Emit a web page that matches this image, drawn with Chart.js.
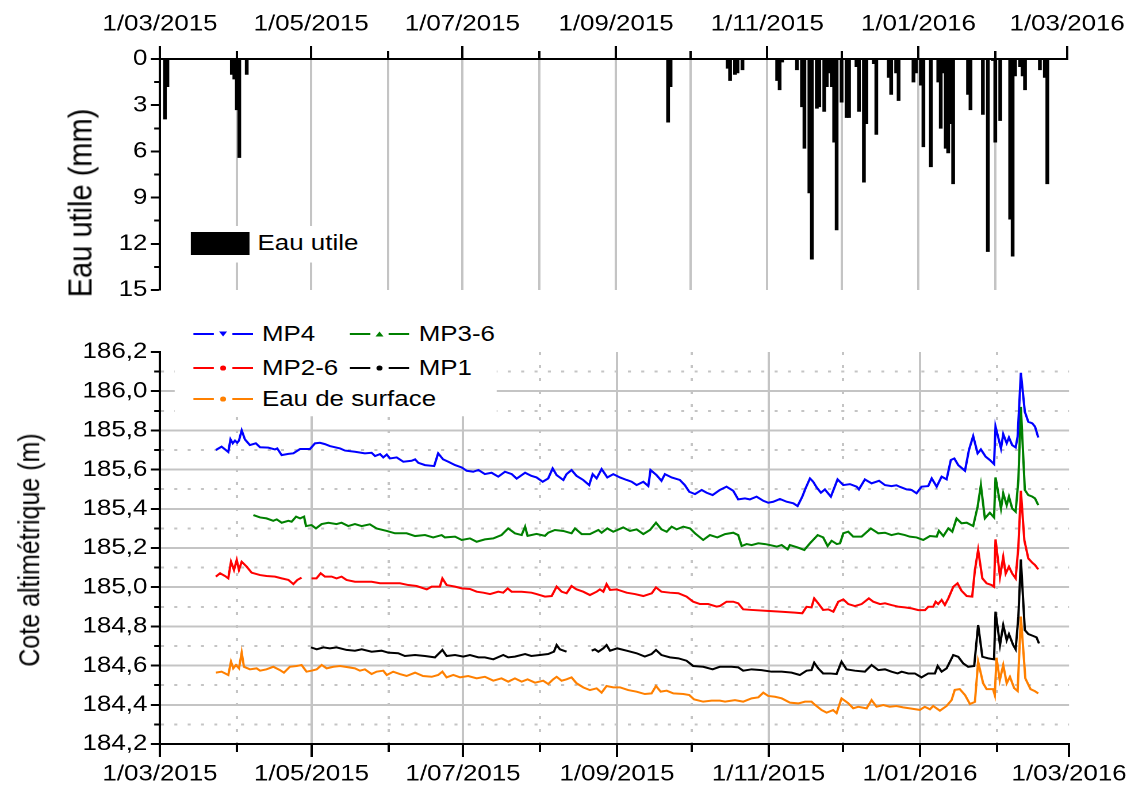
<!DOCTYPE html>
<html>
<head>
<meta charset="utf-8">
<script src="https://cdn.jsdelivr.net/npm/chart.js@4.4.0/dist/chart.umd.min.js"></script>
<style>
html, body { margin: 0; padding: 0; background: #fff; overflow: hidden; }
#page { position: absolute; left: 0; top: 0; width: 986px; height: 791px; transform: scaleX(1.15); transform-origin: 0 0;
        font-family: 'Liberation Sans', Arial, sans-serif; color: #000; }
.box { position: absolute; }
.ttl { position: absolute; white-space: nowrap; transform: translate(-50%, -50%) rotate(-90deg); }
.leg { position: absolute; background: #fff; }
.item { position: absolute; height: 30px; display: flex; align-items: center; white-space: nowrap; font-size: 22.5px; }
</style>
</head>
<body>
<div id="page">
  <div class="box" style="left:0;top:0;width:986px;height:310px"><canvas id="rain"></canvas></div>
  <div class="box" style="left:0;top:310px;width:986px;height:481px"><canvas id="level"></canvas></div>
  <div class="ttl" style="left:70px;top:203px;font-size:29px">Eau utile (mm)</div>
  <div class="ttl" style="left:26px;top:550px;font-size:25px">Cote altimétrique (m)</div>
  <div id="rainLeg" class="leg" style="left:161px;top:226px;width:154px;height:36px"></div>
  <div id="levelLeg" class="leg" style="left:152px;top:318px;width:280px;height:98px"></div>
</div>
<script>
// days counted from 1/03/2015
var monthDays = [0, 31, 61, 92, 122, 153, 184, 214, 245, 275, 306, 337, 366];
var monthLabels = ['1/03/2015', '', '1/05/2015', '', '1/07/2015', '', '1/09/2015', '', '1/11/2015', '', '1/01/2016', '', '1/03/2016'];
var rainTicks = [0, 1.5, 3, 4.5, 6, 7.5, 9, 10.5, 12, 13.5, 15];
var levelTicks = [184.2, 184.3, 184.4, 184.5, 184.6, 184.7, 184.8, 184.9, 185.0, 185.1, 185.2,
                  185.3, 185.4, 185.5, 185.6, 185.7, 185.8, 185.9, 186.0, 186.1, 186.2];

// Eau utile (mm)
var rainDays = [2, 3, 29, 30, 31, 32, 35, 205, 206, 229, 230, 232, 233, 235, 249, 250, 251,
  257, 259, 260, 262, 263, 265, 266, 268, 269, 270, 271, 272, 273, 275, 277, 278, 281, 282, 284, 285,
  288, 289, 294, 295, 297, 298, 304, 305, 307, 308, 311, 314, 315, 316, 317, 318, 319, 320, 326, 327,
  332, 334, 336, 337, 339, 343, 344, 345, 347, 348, 349, 355, 357, 358];
var rainMm = [3.9, 1.8, 1.0, 1.3, 3.3, 6.4, 1.0, 4.1, 1.8, 0.6, 1.4, 1.0, 0.9, 0.7, 1.4, 2.0, 0.2,
  0.7, 3.1, 5.8, 8.7, 13.0, 3.2, 3.1, 3.4, 1.8, 0.9, 1.8, 5.4, 11.1, 2.8, 3.8, 3.8, 0.5, 3.4, 8.0, 4.2,
  0.3, 4.9, 1.2, 2.3, 0.9, 2.7, 1.5, 0.9, 1.7, 5.7, 7.0, 1.5, 4.5, 0.9, 5.8, 6.1, 4.2, 8.1, 2.3, 3.3,
  3.6, 12.5, 0.1, 5.4, 4.0, 10.4, 12.8, 1.1, 0.5, 1.1, 2.0, 0.7, 1.2, 8.1];

// Cote altimetrique (m), [day, value]
var mp4 = [[22.5,185.70],[24.8,185.717],[27.5,185.69],[28.4,185.754],[29.3,185.734],[30.2,185.748],[31.1,185.737],[31.8,185.748],[32.9,185.80],[34.2,185.754],[36.2,185.725],[38.6,185.734],[40.3,185.714],[43.6,185.712],[46.3,185.703],[47.2,185.708],[49,185.674],[51.7,185.68],[53.7,185.683],[56.4,185.705],[60.4,185.705],[62.4,185.734],[64.4,185.737],[66.4,185.73],[68.4,185.72],[72.5,185.708],[74.5,185.697],[78.5,185.691],[82.5,185.683],[85.2,185.686],[86.6,185.669],[88.6,185.679],[89.9,185.662],[91.3,185.677],[92.6,185.657],[95.3,185.662],[98,185.64],[101.3,185.645],[102.7,185.652],[104,185.635],[106.7,185.623],[110.4,185.618],[112,185.683],[114,185.652],[116.1,185.64],[118.8,185.623],[121.5,185.611],[123.5,185.594],[126.1,185.589],[128.2,185.598],[130.8,185.577],[133.5,185.584],[136.2,185.564],[138.9,185.589],[141.6,185.577],[143.6,185.554],[147,185.584],[149.5,185.568],[151.6,185.56],[154.1,185.538],[156.3,185.555],[158.1,185.606],[159.7,185.572],[162.4,185.547],[163.7,185.577],[165.7,185.598],[167.7,185.568],[170.4,185.547],[172.8,185.521],[174.2,185.577],[175.8,185.555],[177.8,185.603],[180.1,185.56],[182.5,185.577],[185.2,185.56],[187.9,185.547],[189.9,185.538],[191.9,185.521],[194.6,185.538],[196.6,185.516],[197.5,185.598],[199.9,185.572],[201.9,185.543],[203.3,185.577],[206,185.56],[209.3,185.547],[211.3,185.521],[213.1,185.487],[215.4,185.475],[218.1,185.496],[220.1,185.482],[222.5,185.47],[225.4,185.496],[228.1,185.513],[230.8,185.492],[232.8,185.448],[235.5,185.453],[237.5,185.448],[240.2,185.462],[242.9,185.441],[244.9,185.431],[246.9,185.436],[249.6,185.45],[252.3,185.436],[255,185.428],[256.7,185.414],[258.6,185.462],[259.9,185.504],[261.7,185.555],[263,185.538],[264.4,185.509],[266.1,185.482],[267.7,185.499],[270.1,185.462],[272.8,185.55],[275.1,185.521],[277.8,185.526],[280.5,185.513],[281.4,185.499],[283.8,185.55],[286.5,185.53],[289.5,185.543],[291.9,185.521],[294.5,185.516],[296.5,185.52],[297.9,185.512],[300.6,185.499],[302.6,185.496],[304.6,185.479],[306.6,185.513],[309.3,185.516],[310.7,185.555],[312.7,185.513],[314.7,185.564],[316.7,185.55],[318.4,185.649],[319.8,185.657],[321.4,185.623],[324.1,185.594],[325.7,185.7],[327.4,185.771],[329.2,185.683],[330.5,185.703],[332.4,185.666],[334.1,185.649],[335.8,185.628],[336.4,185.819],[338.6,185.708],[339.5,185.781],[340.9,185.735],[341.8,185.764],[343.1,185.725],[344.5,185.713],[345.3,185.768],[346.6,186.094],[348.2,185.895],[349.6,185.844],[351.2,185.836],[352.3,185.819],[353.6,185.764]];
var mp36 = [[37.6,185.368],[40.3,185.356],[42.9,185.351],[45.6,185.339],[47,185.346],[49,185.329],[51.7,185.339],[53,185.334],[54.8,185.36],[56.4,185.351],[58,185.36],[58.8,185.312],[61,185.317],[62.8,185.30],[65.1,185.322],[67.8,185.329],[71.1,185.322],[73.1,185.329],[75.8,185.312],[78.5,185.322],[81.2,185.312],[84.5,185.321],[87.2,185.30],[91.3,185.287],[94.6,185.275],[99.3,185.275],[102.7,185.261],[106.7,185.266],[110,185.254],[113.4,185.266],[114.7,185.254],[118.8,185.258],[121.5,185.241],[124.8,185.249],[127.5,185.232],[130.8,185.244],[134.2,185.249],[137.5,185.266],[140.2,185.30],[142.9,185.275],[145.6,185.266],[147,185.309],[148,185.262],[151.6,185.272],[155,185.262],[156.3,185.278],[159,185.292],[162.4,185.287],[165.7,185.275],[167.1,185.30],[169.8,185.271],[173.1,185.271],[176.5,185.292],[177.8,185.278],[180.1,185.30],[182.5,185.283],[186.5,185.305],[189.2,185.287],[191.9,185.295],[194.6,185.271],[197.3,185.292],[199.7,185.329],[201.9,185.295],[204,185.283],[206,185.309],[208,185.295],[210.7,185.309],[213.4,185.30],[215.4,185.275],[218.7,185.241],[221.4,185.266],[224.4,185.254],[227.5,185.271],[230.8,185.278],[232.8,185.266],[234.2,185.21],[236.2,185.22],[238.2,185.215],[240.9,185.224],[243.6,185.22],[245.6,185.215],[248.3,185.207],[250.3,185.215],[252.7,185.193],[253.6,185.215],[256.7,185.203],[259.4,185.19],[261.7,185.224],[264.8,185.266],[267,185.254],[268.8,185.21],[270.4,185.237],[272.5,185.22],[273.8,185.224],[275.1,185.275],[277.1,185.283],[279.1,185.258],[282.5,185.258],[286.2,185.30],[289.2,185.275],[291.9,185.278],[294.5,185.266],[297.2,185.274],[299.9,185.266],[301.9,185.258],[304.6,185.254],[307.3,185.241],[310,185.261],[312.7,185.258],[313.6,185.288],[315.4,185.261],[317.4,185.30],[319,185.283],[320.7,185.351],[322.7,185.326],[324.8,185.329],[327.4,185.312],[329.2,185.411],[330.5,185.521],[332.1,185.351],[334.1,185.38],[335.8,185.356],[336.4,185.56],[338.6,185.402],[339.5,185.479],[340.9,185.419],[341.8,185.462],[343.1,185.402],[344.5,185.385],[345.6,185.547],[346.6,185.92],[348.2,185.496],[349.6,185.47],[351.2,185.462],[352.3,185.453],[353.6,185.419]];
var mp26 = [[22.5,185.054],[24.2,185.071],[26.2,185.057],[27.5,185.045],[28.6,185.13],[29.8,185.088],[30.9,185.139],[31.8,185.088],[32.9,185.13],[34.9,185.105],[36.9,185.074],[40.3,185.062],[42.9,185.057],[46.3,185.054],[49,185.045],[51.7,185.037],[53.7,185.016],[55.3,185.037],[57,185.049],[59,null],[61,185.045],[63,185.045],[64.7,185.071],[66.4,185.054],[69.1,185.054],[71.1,185.045],[73.1,185.054],[75.1,185.037],[78.5,185.028],[82.5,185.028],[85.2,185.028],[88.6,185.02],[91.9,185.02],[96.6,185.02],[100,185.011],[103.3,185.006],[107.4,184.989],[109.4,185.003],[112.7,185.003],[113.7,185.045],[115.4,185.011],[118.8,185.003],[121.5,184.994],[124.8,184.991],[127.5,184.977],[130.2,184.972],[132.9,184.965],[136.2,184.977],[138.2,184.972],[140,184.994],[141.6,184.977],[145.6,184.977],[149.6,184.972],[151.6,184.965],[155,184.952],[157.7,184.955],[159.7,185.003],[161.7,184.977],[163.7,184.969],[165.7,185.006],[167.7,184.989],[170.4,184.977],[173.1,184.96],[175.8,184.977],[177.1,184.989],[178.5,184.977],[179.8,185.016],[181.2,184.986],[183.8,184.989],[187.9,184.972],[191.2,184.965],[194.6,184.955],[198,184.969],[199.7,184.999],[201.9,184.977],[205.3,184.972],[208.7,184.969],[212,184.952],[214.7,184.926],[217.4,184.914],[220.7,184.914],[224.1,184.901],[225.4,184.904],[228.1,184.926],[230.8,184.926],[232.8,184.918],[234.8,184.887],[238.2,184.884],[243.6,184.88],[250.3,184.875],[255.6,184.87],[258.6,184.867],[260.3,184.9],[262.3,184.897],[263.4,184.943],[265,184.918],[267,184.884],[269.1,184.887],[271.1,184.875],[273.1,184.926],[275.1,184.938],[277.1,184.914],[279.8,184.904],[282.5,184.914],[285.4,184.943],[287.2,184.926],[289.9,184.914],[291.9,184.918],[294.5,184.909],[297.5,184.9],[299.9,184.897],[302.6,184.892],[305.3,184.883],[308,184.883],[309.3,184.9],[311.3,184.9],[312.3,184.926],[313.3,184.914],[314.7,184.935],[316,184.909],[317.4,184.943],[319.4,185.002],[321.1,185.02],[322.7,184.982],[324.8,184.955],[327,184.952],[328.1,185.088],[329.4,185.19],[331.1,185.045],[332.8,185.02],[334.8,185.011],[335.8,185.002],[336.4,185.244],[338.2,185.053],[339.5,185.155],[340.5,185.07],[341.8,185.105],[343.1,185.07],[344.5,185.045],[345.6,185.206],[346.6,185.492],[348,185.24],[349.6,185.147],[351.2,185.125],[352.3,185.113],[353.6,185.091]];
var mp1 = [[60.8,184.693],[63.1,184.683],[65.8,184.693],[68.4,184.688],[71.1,184.693],[75.1,184.68],[78.5,184.676],[81.2,184.683],[85.2,184.671],[89.2,184.676],[91.9,184.666],[95.9,184.663],[98.6,184.649],[102.7,184.654],[106.7,184.649],[110.7,184.642],[113.7,184.68],[115.4,184.649],[118.8,184.654],[122.1,184.646],[124.8,184.654],[128.2,184.642],[130.8,184.642],[134.2,184.632],[138.2,184.654],[140.2,184.642],[142.9,184.646],[147,184.659],[149.5,184.649],[153,184.654],[156.3,184.659],[158.6,184.671],[159.7,184.705],[161,184.683],[163.7,184.671],[168,null],[173.8,184.676],[175.1,184.683],[176.5,184.671],[178.5,184.688],[179.8,184.705],[181.2,184.676],[184.1,184.688],[187.9,184.676],[191.9,184.663],[195.2,184.646],[197.9,184.659],[199.7,184.68],[201.9,184.654],[205.3,184.642],[208.7,184.637],[212,184.625],[214.7,184.598],[218.7,184.594],[222.5,184.581],[225.4,184.594],[226.8,184.594],[230.1,184.594],[232.8,184.591],[234.8,184.574],[238.2,184.581],[242.2,184.577],[246.2,184.569],[250.3,184.569],[254.3,184.564],[257.6,184.552],[260.3,184.574],[262.3,184.577],[263.4,184.615],[265,184.586],[267,184.56],[269.7,184.56],[272.4,184.557],[274.4,184.62],[276.4,184.581],[279.8,184.574],[283.8,184.569],[286.5,184.603],[289.2,184.577],[291.9,184.581],[294.5,184.569],[297,184.56],[298.6,184.569],[301.3,184.56],[303.9,184.56],[306.6,184.54],[309.3,184.56],[312,184.56],[313.1,184.598],[314.7,184.569],[316.7,184.586],[319.4,184.654],[321.4,184.645],[323.4,184.611],[325.4,184.594],[327.8,184.598],[329.4,184.807],[331.1,184.645],[333.5,184.637],[335.8,184.632],[336.4,184.875],[338.2,184.705],[339.5,184.807],[340.9,184.73],[341.8,184.761],[343.5,184.705],[344.5,184.683],[345.6,184.85],[346.6,185.142],[348.2,184.781],[349.6,184.761],[351.6,184.751],[352.9,184.744],[353.9,184.713]];
var surface = [[22.5,184.564],[24.8,184.569],[27.5,184.552],[28.6,184.62],[29.5,184.586],[30.6,184.603],[31.8,184.586],[32.9,184.666],[33.8,184.594],[36.2,184.581],[38.9,184.586],[40.3,184.574],[42.9,184.581],[45.6,184.594],[48.3,184.577],[49.9,184.564],[52.3,184.594],[55,184.598],[57,184.603],[59,184.569],[61,184.574],[63.1,184.581],[65.1,184.603],[67.1,184.586],[69.8,184.594],[72.5,184.598],[74.5,184.594],[78.5,184.586],[80.5,184.574],[82.5,184.581],[85.2,184.557],[87.2,184.569],[89.9,184.574],[91.3,184.552],[93.9,184.569],[96.6,184.557],[99.3,184.547],[102.7,184.564],[105.9,184.547],[109.4,184.543],[112,184.552],[113.7,184.569],[115.4,184.54],[118.1,184.552],[120.8,184.54],[124.1,184.547],[127.5,184.535],[130.8,184.543],[134.2,184.523],[137.5,184.535],[140.2,184.518],[142.9,184.535],[145.6,184.518],[148,184.53],[151,184.513],[154.3,184.523],[156.3,184.506],[158.3,184.53],[159.7,184.543],[161.7,184.523],[163.7,184.53],[165.7,184.54],[167.7,184.51],[170.4,184.489],[173.1,184.475],[175.8,184.484],[177.8,184.462],[179.8,184.496],[182.5,184.489],[185.2,184.489],[188.5,184.475],[191.9,184.467],[195.2,184.455],[197.9,184.458],[199.7,184.496],[201.6,184.467],[204,184.472],[206.7,184.458],[210.7,184.455],[213.1,184.45],[215,184.428],[218.7,184.416],[222.1,184.421],[225.4,184.421],[227.5,184.416],[231.5,184.424],[234.8,184.416],[238.2,184.433],[240.9,184.438],[242.9,184.462],[244.9,184.445],[247.6,184.441],[250.3,184.433],[253.6,184.411],[257,184.407],[259.7,184.416],[262.3,184.416],[263.7,184.4],[266.4,184.373],[268.4,184.36],[271,184.373],[272.4,184.357],[274.4,184.433],[277.1,184.408],[279.1,184.382],[281.1,184.39],[284.5,184.382],[286.5,184.424],[288.5,184.39],[291.2,184.399],[293.8,184.39],[296.5,184.394],[299.2,184.387],[301.9,184.382],[305.9,184.374],[307.9,184.39],[310,184.377],[311.3,184.394],[314,184.37],[316.7,184.394],[318.7,184.424],[320,184.476],[322,184.48],[324.1,184.45],[326.1,184.404],[328.1,184.415],[329.4,184.62],[331.4,184.51],[332.8,184.48],[335.4,184.48],[336.1,184.45],[336.8,184.64],[338.1,184.525],[339.5,184.603],[340.9,184.51],[342.2,184.543],[343.9,184.485],[345.3,184.47],[346.6,184.85],[348.4,184.535],[350.5,184.48],[352.2,184.47],[353.6,184.458]];

var seriesNames = ['MP4', 'MP3-6', 'MP2-6', 'MP1', 'Eau de surface'];
var seriesColors = ['#0000ff', '#008000', '#ff0000', '#000000', '#ff8000'];
var seriesMarkers = ['down', 'up', 'dot', 'dot', 'dot'];
var allSeries = [mp4, mp36, mp26, mp1, surface];

// layout (unstretched px, page is stretched 1.15 horizontally)
var plotLeft = 139.1, plotRight = 929.6, pageW = 986;
var gridGrey = '#c4c4c4', none = 'rgba(0,0,0,0)';

Chart.defaults.font.family = "'Liberation Sans', Arial, sans-serif";
Chart.defaults.font.size = 22.5;
Chart.defaults.color = '#000';

function setTicks(list) {
  return function(scale) { scale.ticks = list.map(function(v) { return {value: v}; }); };
}
function xy(arr) {
  return arr.map(function(p) { return {x: p[0], y: p[1]}; });
}

var rainData = rainDays.map(function(d, i) { return {x: d, y: rainMm[i]}; });

new Chart('rain', {
  type: 'bar',
  data: {
    datasets: [{ data: rainData, backgroundColor: '#000', borderWidth: 0, barThickness: 2.6 }]
  },
  options: {
    animation: false, responsive: true, maintainAspectRatio: false, devicePixelRatio: 2, events: [],
    layout: { padding: { left: 0, right: pageW - plotRight, top: 0, bottom: 20 } },
    plugins: { legend: { display: false }, tooltip: { enabled: false } },
    scales: {
      x: {
        type: 'linear', position: 'top', min: 0, max: 366, offset: false,
        afterBuildTicks: setTicks(monthDays),
        afterFit: function(s) { s.height = 59; },
        ticks: { autoSkip: false, maxRotation: 0, minRotation: 0, padding: 8,
                 callback: function(v, i) { return monthLabels[i]; } },
        grid: { offset: false, lineWidth: 2, tickLength: 13, tickWidth: 2, tickColor: '#000',
                color: function(c) { return (c.index === 0 || c.index === 12) ? none : gridGrey; },
                tickBorderDash: function(c) { return (c.index % 2) ? [0, 5, 7, 0] : []; } },
        border: { color: '#000', width: 2 }
      },
      y: {
        type: 'linear', reverse: true, min: 0, max: 15,
        afterBuildTicks: setTicks(rainTicks),
        afterFit: function(s) { s.width = plotLeft; },
        ticks: { autoSkip: false, padding: 3,
                 callback: function(v, i) { return (i % 2) ? '' : String(v); } },
        grid: { drawOnChartArea: false, tickLength: 8, tickWidth: 2, tickColor: '#000',
                tickBorderDash: function(c) { return (c.index % 2) ? [0, 3, 4, 0] : []; } },
        border: { color: '#000', width: 2 }
      }
    }
  }
});

new Chart('level', {
  type: 'line',
  data: {
    datasets: allSeries.map(function(s, k) {
      return { label: seriesNames[k], data: xy(s), borderColor: seriesColors[k], borderWidth: 2,
               pointRadius: 0, fill: false, spanGaps: false, tension: 0 };
    })
  },
  options: {
    animation: false, responsive: true, maintainAspectRatio: false, devicePixelRatio: 2, events: [],
    layout: { padding: { left: 0, right: pageW - plotRight, top: 42, bottom: 0 } },
    plugins: { legend: { display: false }, tooltip: { enabled: false } },
    scales: {
      x: {
        type: 'linear', position: 'bottom', min: 0, max: 366,
        afterBuildTicks: setTicks(monthDays),
        afterFit: function(s) { s.height = 47; },
        ticks: { autoSkip: false, maxRotation: 0, minRotation: 0, padding: 4,
                 callback: function(v, i) { return monthLabels[i]; } },
        grid: { lineWidth: 2, tickLength: 13, tickWidth: 2, tickColor: '#000',
                color: function(c) { return (c.index === 0 || c.index === 12) ? none : gridGrey; },
                tickBorderDash: function(c) { return (c.index % 2) ? [7, 20] : []; } },
        border: { color: '#000', width: 2,
                  dash: function(c) { return (c.tick && c.index % 2) ? [3, 10] : []; } }
      },
      y: {
        type: 'linear', min: 184.2, max: 186.2,
        afterBuildTicks: setTicks(levelTicks),
        afterFit: function(s) { s.width = plotLeft; },
        ticks: { autoSkip: false, padding: 3,
                 callback: function(v, i) { return (i % 2) ? '' : v.toFixed(1).replace('.', ','); } },
        grid: { lineWidth: 2, tickLength: 8, tickWidth: 2, tickColor: '#000',
                color: function(c) { return (c.index === 0 || c.index === 20) ? none : gridGrey; },
                tickBorderDash: function(c) { return (c.index % 2) ? [0, 3, 4, 0] : []; } },
        border: { color: '#000', width: 2,
                  dash: function(c) { return (c.tick && c.index % 2) ? [2.6, 9] : []; } }
      }
    }
  }
});

// legends (html, inside the stretched page)
function markerSvg(kind, color) {
  var m;
  if (kind === 'down') m = '<polygon points="22.5,3.5 29.5,3.5 26,8.5" fill="' + color + '"/>';
  else if (kind === 'up') m = '<polygon points="22.5,8.5 29.5,8.5 26,3.5" fill="' + color + '"/>';
  else m = '<circle cx="26" cy="6" r="2.6" fill="' + color + '"/>';
  return '<svg width="52" height="12" style="display:block;margin-right:7.8px">' +
    '<line x1="0" y1="6" x2="18" y2="6" stroke="' + color + '" stroke-width="2"/>' + m +
    '<line x1="34" y1="6" x2="52" y2="6" stroke="' + color + '" stroke-width="2"/></svg>';
}
var legPos = [[16, 1], [152.3, 1], [16, 35], [152.3, 35], [16, 66]];
var lev = document.getElementById('levelLeg');
seriesNames.forEach(function(n, k) {
  var d = document.createElement('div');
  d.className = 'item';
  d.style.left = legPos[k][0] + 'px';
  d.style.top = legPos[k][1] + 'px';
  d.innerHTML = markerSvg(seriesMarkers[k], seriesColors[k]) + '<span>' + n + '</span>';
  lev.appendChild(d);
});
var rl = document.getElementById('rainLeg');
rl.innerHTML = '<div class="item" style="left:5px;top:2px"><span style="display:block;width:51px;height:23px;background:#000;margin-right:7px"></span><span>Eau utile</span></div>';
</script>
</body>
</html>
